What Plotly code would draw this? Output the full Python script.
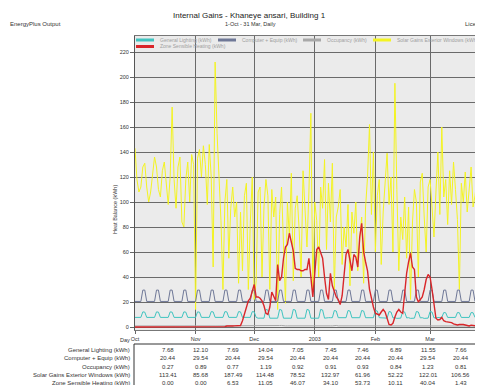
import pandas as pd
import plotly.graph_objects as go

# daily values, 1 Oct 2002 - 31 Mar 2003
days = pd.date_range("2002-10-01", "2003-03-31", freq="D")

general_lighting = [
    7.68, 7.70, 7.66, 7.68, 12.10, 11.90, 7.68,
    7.68, 7.70, 7.66, 7.68, 12.10, 11.90, 7.68,
    7.68, 7.70, 7.66, 7.68, 12.10, 11.90, 7.68,
    7.68, 7.70, 7.66, 7.68, 12.10, 11.90, 7.68,
    7.68, 7.70, 7.66, 7.68, 12.10, 11.90, 7.68,
    7.69, 7.72, 7.69, 7.70, 12.30, 12.10, 7.69,
    7.69, 7.72, 7.69, 7.70, 12.30, 12.10, 7.69,
    7.69, 7.72, 7.69, 7.70, 12.30, 12.10, 7.69,
    7.69, 7.72, 7.69, 7.70, 12.30, 12.10, 7.69,
    7.05, 7.10, 7.08, 7.05, 14.04, 13.60, 7.05,
    7.05, 7.10, 7.08, 7.05, 14.04, 13.60, 7.05,
    7.05, 7.10, 7.08, 7.05, 14.04, 13.60, 7.05,
    7.05, 7.10, 7.08, 7.05, 14.04, 13.60, 7.05,
    7.05, 7.10, 7.08, 7.05, 14.04, 13.60, 7.05,
    7.45, 7.44, 7.46, 7.45, 13.20, 12.80, 7.45,
    7.45, 7.44, 7.46, 7.45, 13.20, 12.80, 7.45,
    7.45, 7.44, 7.46, 7.45, 13.20, 12.80, 7.45,
    7.45, 7.44, 7.46, 7.45, 13.20, 12.80, 7.45,
    7.46, 6.89, 7.20, 7.10, 12.40, 12.00, 7.30,
    7.46, 6.89, 7.20, 7.10, 12.40, 12.00, 7.30,
    7.46, 6.89, 7.20, 7.10, 12.40, 12.00, 7.30,
    7.46, 6.89, 7.20, 7.10, 12.40, 12.00, 7.30,
    7.66, 7.60, 7.62, 7.66, 11.55, 11.40, 7.66,
    7.66, 7.60, 7.62, 7.66, 11.55, 11.40, 7.66,
    7.66, 7.60, 7.62, 7.66, 11.55, 11.40, 7.66,
    7.66, 7.60, 7.62, 7.66, 11.55, 11.40, 7.66,
]

computer_equip = [
    20.44, 20.44, 20.44, 20.44, 29.54, 29.54, 20.44,
    20.44, 20.44, 20.44, 20.44, 29.54, 29.54, 20.44,
    20.44, 20.44, 20.44, 20.44, 29.54, 29.54, 20.44,
    20.44, 20.44, 20.44, 20.44, 29.54, 29.54, 20.44,
    20.44, 20.44, 20.44, 20.44, 29.54, 29.54, 20.44,
    20.44, 20.44, 20.44, 20.44, 29.54, 29.54, 20.44,
    20.44, 20.44, 20.44, 20.44, 29.54, 29.54, 20.44,
    20.44, 20.44, 20.44, 20.44, 29.54, 29.54, 20.44,
    20.44, 20.44, 20.44, 20.44, 29.54, 29.54, 20.44,
    20.44, 20.44, 20.44, 20.44, 29.54, 29.54, 20.44,
    20.44, 20.44, 20.44, 20.44, 29.54, 29.54, 20.44,
    20.44, 20.44, 20.44, 20.44, 29.54, 29.54, 20.44,
    20.44, 20.44, 20.44, 20.44, 29.54, 29.54, 20.44,
    20.44, 20.44, 20.44, 20.44, 29.54, 29.54, 20.44,
    20.44, 20.44, 20.44, 20.44, 29.54, 29.54, 20.44,
    20.44, 20.44, 20.44, 20.44, 29.54, 29.54, 20.44,
    20.44, 20.44, 20.44, 20.44, 29.54, 29.54, 20.44,
    20.44, 20.44, 20.44, 20.44, 29.54, 29.54, 20.44,
    20.44, 20.44, 20.44, 20.44, 29.54, 29.54, 20.44,
    20.44, 20.44, 20.44, 20.44, 29.54, 29.54, 20.44,
    20.44, 20.44, 20.44, 20.44, 29.54, 29.54, 20.44,
    20.44, 20.44, 20.44, 20.44, 29.54, 29.54, 20.44,
    20.44, 20.44, 20.44, 20.44, 29.54, 29.54, 20.44,
    20.44, 20.44, 20.44, 20.44, 29.54, 29.54, 20.44,
    20.44, 20.44, 20.44, 20.44, 29.54, 29.54, 20.44,
    20.44, 20.44, 20.44, 20.44, 29.54, 29.54, 20.44,
]

occupancy = [
    0.84, 0.85, 0.84, 0.85, 1.15, 1.19, 0.85,
    0.84, 0.85, 0.84, 0.85, 1.15, 1.19, 0.85,
    0.84, 0.85, 0.84, 0.85, 1.15, 1.19, 0.85,
    0.84, 0.85, 0.84, 0.85, 1.15, 1.19, 0.85,
    0.84, 0.85, 0.84, 0.85, 1.15, 1.19, 0.85,
    0.89, 0.88, 0.90, 0.89, 1.19, 1.23, 0.89,
    0.89, 0.88, 0.90, 0.89, 1.19, 1.23, 0.89,
    0.89, 0.88, 0.90, 0.89, 1.19, 1.23, 0.89,
    0.89, 0.88, 0.90, 0.89, 1.19, 1.23, 0.89,
    0.92, 0.91, 0.93, 0.92, 1.19, 1.23, 0.92,
    0.92, 0.91, 0.93, 0.92, 1.19, 1.23, 0.92,
    0.92, 0.91, 0.93, 0.92, 1.19, 1.23, 0.92,
    0.92, 0.91, 0.93, 0.92, 1.19, 1.23, 0.92,
    0.92, 0.91, 0.93, 0.92, 1.19, 1.23, 0.92,
    0.91, 0.93, 0.92, 0.91, 1.19, 1.23, 0.91,
    0.91, 0.93, 0.92, 0.91, 1.19, 1.23, 0.91,
    0.91, 0.93, 0.92, 0.91, 1.19, 1.23, 0.91,
    0.91, 0.93, 0.92, 0.91, 1.19, 1.23, 0.91,
    0.84, 0.86, 0.84, 0.85, 1.15, 1.19, 0.84,
    0.84, 0.86, 0.84, 0.85, 1.15, 1.19, 0.84,
    0.84, 0.86, 0.84, 0.85, 1.15, 1.19, 0.84,
    0.84, 0.86, 0.84, 0.85, 1.15, 1.19, 0.84,
    0.81, 0.82, 0.81, 0.80, 1.15, 1.18, 0.81,
    0.81, 0.82, 0.81, 0.80, 1.15, 1.18, 0.81,
    0.81, 0.82, 0.81, 0.80, 1.15, 1.18, 0.81,
    0.81, 0.82, 0.81, 0.80, 1.15, 1.18, 0.81,
]

solar_gains = [
    # Oct
    143, 118, 108, 112, 128, 131, 112, 100, 108, 122, 136, 128, 110, 104,
    125, 132, 112, 98, 120, 176, 118, 95, 128, 136, 84, 80, 118, 132,
    100, 138, 130,
    # Nov
    14, 135, 142, 120, 145, 130, 98, 146, 120, 48, 212, 155, 120, 85,
    30, 100, 118, 55, 95, 112, 88, 100, 35, 92, 45, 105, 115, 30,
    83, 120,
    # Dec
    22, 37, 108, 112, 40, 96, 118, 105, 30, 110, 88, 104, 14, 90,
    112, 60, 19, 100, 72, 123, 37, 95, 105, 78, 40, 125, 92, 64,
    108, 171, 28,
    # Jan
    100, 85, 40, 112, 95, 134, 62, 115, 84, 131, 30, 88, 96, 110,
    50, 80, 64, 98, 33, 92, 75, 100, 45, 70, 88, 35, 96, 120,
    162, 90, 140,
    # Feb
    60, 105, 118, 50, 92, 115, 139, 98, 120, 60, 195, 110, 45, 88,
    70, 104, 55, 96, 22, 84, 110, 100, 40, 116, 123, 88, 60, 112,
    # Mar
    118, 96, 72, 108, 140, 90, 160, 104, 118, 82, 125, 98, 132, 110,
    86, 30, 115, 100, 124, 92, 110, 128, 96, 105, 118, 147, 102, 98,
    120, 110, 106,
]

zone_heating = [
    # Oct
    0, 0, 0, 0, 0, 0, 0, 0, 0, 0, 0, 0, 0, 0, 0, 0,
    0, 0, 0, 0, 0, 0, 0, 0, 0, 0, 0, 0, 0, 0, 0,
    # Nov
    0, 0, 0, 0, 0, 0, 0, 0, 0, 0, 0, 0, 0, 0, 0,
    0.3, 0.8, 1.0, 1.0, 0.8, 0.9, 1.0, 0.8, 1.2,
    5, 10, 14, 21, 23, 28,
    # Dec
    34, 24, 24, 23, 21, 17, 11, 10, 16, 28, 25, 21, 50, 37,
    40, 55, 64, 66, 75, 68, 61, 47, 46, 46, 45, 45, 46, 46,
    55, 40, 24,
    # Jan
    43, 62, 64, 60, 55, 40, 27, 22, 43, 33, 28, 24, 22, 18,
    25, 43, 58, 62, 53, 45, 58, 56, 48, 72, 83, 60, 52, 45,
    30, 22, 16,
    # Feb
    11, 10, 9.6, 12, 14, 12, 7, 2, 1.6, 3, 8, 12, 14, 12,
    11, 27, 43, 52, 59, 48, 46, 24, 20, 22, 24, 30, 38, 42,
    # Mar
    40, 30, 18, 7, 5.6, 6, 7.6, 5, 4.3, 4, 3.5, 3.5, 2.5, 2,
    1.6, 2, 2.3, 2, 1.6, 1, 0.8, 1.5, 1.2, 0.8, 0.5, 0.5, 0.3, 0.4,
    0.3, 0.2, 0.2,
]

series_names = [
    "General Lighting (kWh)",
    "Computer + Equip (kWh)",
    "Occupancy (kWh)",
    "Solar Gains Exterior Windows (kWh)",
    "Zone Sensible Heating (kWh)",
]
series_colors = ["#3fc4c0", "#6f7897", "#a8a8a8", "#f4f422", "#d9262a"]

month_ticks = ["2002-10-01", "2002-11-01", "2002-12-01", "2003-01-01", "2003-02-01", "2003-03-01"]
month_labels = ["Oct", "Nov", "Dec", "2003", "Feb", "Mar"]

# summary table under the chart
table_rows = [
    ["7.68", "12.10", "7.69", "14.04", "7.05", "7.45", "7.46", "6.89", "11.55", "7.66"],
    ["20.44", "29.54", "20.44", "29.54", "20.44", "20.44", "20.44", "20.44", "29.54", "20.44"],
    ["0.27", "0.89", "0.77", "1.19", "0.92", "0.91", "0.93", "0.84", "1.23", "0.81"],
    ["113.41", "85.68", "187.49", "114.48", "78.52", "132.97", "61.96", "52.22", "122.01", "106.56"],
    ["0.00", "0.00", "6.53", "11.05", "46.07", "34.10", "53.73", "10.11", "40.04", "1.43"],
]

FONT = "Liberation Sans, Arial, sans-serif"
OFF = 8                          # page body margin
W, H = 483 - OFF, 385 - OFF
L, R, T, B = 135, 483, 36, 330   # plot area, page pixels


def px(x):
    return (x - L) / (R - L)


def py(y):
    return (B - y) / (B - T)


def note(x, y, text, size=6, color="#333", xanchor="center", **kw):
    return dict(xref="paper", yref="paper", x=px(x), y=py(y), text=text, showarrow=False,
                xanchor=xanchor, yanchor="middle", font=dict(family=FONT, size=size, color=color), **kw)


fig = go.Figure()
all_series = [general_lighting, computer_equip, occupancy, solar_gains, zone_heating]
widths = [1, 1, 1, 1, 1.4]
# draw order: solar behind, heating on top
for i in [3, 2, 0, 1, 4]:
    fig.add_trace(go.Scatter(x=days, y=all_series[i], mode="lines", name=series_names[i],
                             line=dict(color=series_colors[i], width=widths[i]),
                             showlegend=False))

shapes = []
annotations = []

# legend drawn inside the top of the plot frame
legend_pos = [(136, 40), (218, 40), (303, 40), (373, 40), (136, 46.5)]
for i, (lx, ly) in enumerate(legend_pos):
    shapes.append(dict(type="rect", xref="paper", yref="paper",
                       x0=px(lx), x1=px(lx + 18), y0=py(ly + 1.5), y1=py(ly - 1.5),
                       fillcolor=series_colors[i], line=dict(width=0)))
    annotations.append(note(lx + 22, ly, series_names[i], size=5, color="#a0a0a0", xanchor="left"))

# header
annotations += [
    note(249, 15, "Internal Gains - Khaneye ansari, Building 1", size=8, color="#222"),
    note(250, 24, "1-Oct - 31 Mar, Daily", size=5.5),
    note(8, 24, "EnergyPlus Output", xanchor="left"),
    note(463, 24, "Licensed", xanchor="left"),
    note(115, 210, "Heat Balance (kWh)", size=5.5, textangle=-90),
    note(125, 340, "Day", size=5.5),
]

# table
shapes.append(dict(type="rect", xref="paper", yref="paper", x0=px(134), x1=px(520),
                   y0=py(420), y1=py(344), line=dict(color="#333", width=1)))
row_y = [350, 358.3, 366.7, 375, 383.3]
for r, row in enumerate(table_rows):
    annotations.append(note(132, row_y[r], series_names[r], xanchor="right"))
    for c, val in enumerate(row):
        annotations.append(note(168 + 32.5 * c, row_y[r], val))

fig.update_layout(
    width=W, height=H,
    margin=dict(l=L - OFF, r=(W + OFF) - R, t=T - OFF, b=(H + OFF) - B),
    paper_bgcolor="white", plot_bgcolor="#ebebeb",
    font=dict(family=FONT, size=6, color="#333"),
    shapes=shapes, annotations=annotations,
    showlegend=False,
)
fig.update_xaxes(type="date", range=["2002-10-01", "2003-03-28 02:00"],
                 tickvals=month_ticks, ticktext=month_labels,
                 showgrid=True, gridcolor="#6a6a6a", gridwidth=1,
                 showline=True, linecolor="#777", mirror=True,
                 ticks="outside", ticklen=3, tickcolor="#666",
                 tickfont=dict(size=5.5, color="#333"), zeroline=False)
fig.update_yaxes(range=[-2.4, 232.8], dtick=20, tick0=0,
                 showgrid=True, gridcolor="#6a6a6a", gridwidth=1,
                 showline=True, linecolor="#555", mirror=True,
                 ticks="outside", ticklen=4, tickcolor="#666",
                 tickfont=dict(size=5.5, color="#333"), zeroline=False)

fig.write_html("out.html")
